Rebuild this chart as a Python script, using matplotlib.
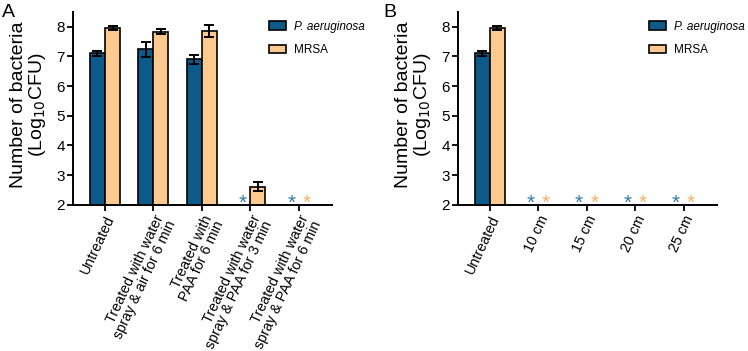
import numpy as np
import matplotlib.pyplot as plt

plt.rcParams['font.family'] = ['Liberation Sans', 'DejaVu Sans']

blue_pa = '#0b5a8a'
orange_mrsa = '#fcc98e'
blue_star = '#2f7cae'
orange_star = '#eeb466'

# panel A
cats_a = ['Untreated', 'Treated with water\nspray & air for 6 min',
          'Treated with\nPAA for 6 min', 'Treated with water\nspray & PAA for 3 min',
          'Treated with water\nspray & PAA for 6 min']
pa_a = [7.11, 7.24, 6.90, np.nan, np.nan]
pa_a_err = [0.09, 0.26, 0.16, np.nan, np.nan]
mrsa_a = [7.97, 7.84, 7.86, 2.61, np.nan]
mrsa_a_err = [0.07, 0.09, 0.19, 0.15, np.nan]

# panel B
cats_b = ['Untreated', '10 cm', '15 cm', '20 cm', '25 cm']
pa_b = [7.11, np.nan, np.nan, np.nan, np.nan]
pa_b_err = [0.09, np.nan, np.nan, np.nan, np.nan]
mrsa_b = [7.97, np.nan, np.nan, np.nan, np.nan]
mrsa_b_err = [0.07, np.nan, np.nan, np.nan, np.nan]

yticks = [2, 3, 4, 5, 6, 7, 8]


def draw_panel(ax, cats, pa, pa_err, mrsa, mrsa_err, legend_x):
    x = np.arange(len(cats))
    w = 0.31
    ax.bar(x - w / 2, pa, w, color=blue_pa, edgecolor='black', linewidth=1.2,
           label='P. aeruginosa', zorder=2)
    ax.bar(x + w / 2, mrsa, w, color=orange_mrsa, edgecolor='black', linewidth=1.2,
           label='MRSA', zorder=2)
    ax.errorbar(x - w / 2, pa, yerr=pa_err, fmt='none', ecolor='black',
                elinewidth=1.4, capsize=3.5, capthick=1.4, zorder=3)
    ax.errorbar(x + w / 2, mrsa, yerr=mrsa_err, fmt='none', ecolor='black',
                elinewidth=1.4, capsize=3.5, capthick=1.4, zorder=3)

    # not detected -> star on the baseline
    for xi, v in zip(x - w / 2, pa):
        if np.isnan(v):
            ax.annotate('*', xy=(xi, 2), xytext=(0, 1.2), textcoords='offset points',
                        ha='center', va='center', fontsize=15, color=blue_star)
    for xi, v in zip(x + w / 2, mrsa):
        if np.isnan(v):
            ax.annotate('*', xy=(xi, 2), xytext=(0, 1.2), textcoords='offset points',
                        ha='center', va='center', fontsize=15, color=orange_star)

    ax.set_xlim(-0.66, 4.68)
    ax.set_ylim(2, 8.5)
    ax.set_yticks(yticks)
    ax.set_xticks(x)
    ax.set_xticklabels(cats, rotation=65, ha='right', rotation_mode='anchor',
                       fontsize=10.3, linespacing=0.95)
    ax.tick_params(axis='y', labelsize=11, width=1.3, length=4.3, pad=1.5)
    ax.tick_params(axis='x', width=1.3, length=4, pad=2)
    for s in ['top', 'right']:
        ax.spines[s].set_visible(False)
    for s in ['left', 'bottom']:
        ax.spines[s].set_linewidth(1.4)
    ax.set_ylabel('Number of bacteria\n(Log$_{10}$CFU)', fontsize=14, linespacing=1.0)
    ax.yaxis.set_label_coords(-0.095, 0.52)

    leg = ax.legend(loc='upper left', bbox_to_anchor=(legend_x, 0.955), frameon=False,
                    fontsize=8.5, handlelength=1.45, handleheight=0.68, handletextpad=0.68,
                    labelspacing=1.0, borderpad=0, borderaxespad=0)
    leg.get_texts()[0].set_style('italic')


fig = plt.figure(figsize=(7.48, 3.51), dpi=100)
ax_a = fig.add_axes([0.0976, 0.4168, 0.346, 0.549])
ax_b = fig.add_axes([0.612, 0.4168, 0.346, 0.549])

draw_panel(ax_a, cats_a, pa_a, pa_a_err, mrsa_a, mrsa_a_err, 0.757)
draw_panel(ax_b, cats_b, pa_b, pa_b_err, mrsa_b, mrsa_b_err, 0.739)

fig.text(0.003, 0.99, 'A', fontsize=14, va='top', ha='left')
fig.text(0.512, 0.99, 'B', fontsize=14, va='top', ha='left')

fig.savefig('out.png', dpi=100)
